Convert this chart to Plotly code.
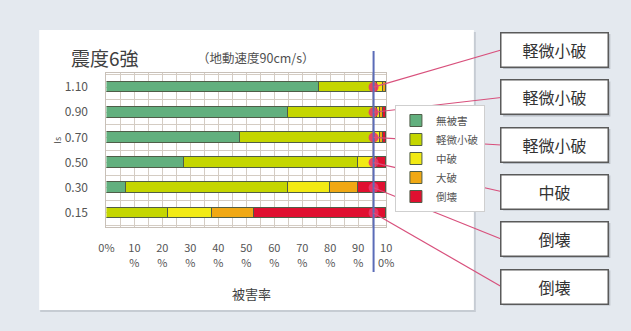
import plotly.graph_objects as go

# ---- data -------------------------------------------------------------
is_values = ["0.15", "0.30", "0.50", "0.70", "0.90", "1.10"]
damage_names = ["無被害", "軽微小破", "中破", "大破", "倒壊"]
no_damage = [0, 7, 28, 48, 65, 76]
slight = [22, 58, 62, 48, 32, 21]
moderate = [16, 15, 6, 2, 1, 2]
severe = [15, 10, 1, 1, 1, 1]
collapse = [47, 10, 3, 1, 1, 0]
threshold = 95.5
row_labels = ["倒壊", "倒壊", "中破", "軽微小破", "軽微小破", "軽微小破"]
x_ticks = [0, 10, 20, 30, 40, 50, 60, 70, 80, 90, 100]
x_ticktext = ["0%", "10<br>%", "20<br>%", "30<br>%", "40<br>%", "50<br>%",
              "60<br>%", "70<br>%", "80<br>%", "90<br>%", "10<br>0%"]

colors = ["#62b07e", "#c4d600", "#f2ea14", "#f0a814", "#e01030"]
series = [no_damage, slight, moderate, severe, collapse]

# ---- geometry ---------------------------------------------------------
W, H = 631, 331
FONT = "Noto Sans CJK JP"
X_DOM = [101 / W, 388 / W]
Y_DOM = [1 - 227 / H, 1 - 73 / H]
X_RANGE = [0, 100]
Y_RANGE = [-0.56, 5.56]


def px(x):
    return x / W


def py(y):
    return 1 - y / H


def data_to_paper(xv, yv):
    fx = (xv - X_RANGE[0]) / (X_RANGE[1] - X_RANGE[0])
    fy = (yv - Y_RANGE[0]) / (Y_RANGE[1] - Y_RANGE[0])
    return (X_DOM[0] + fx * (X_DOM[1] - X_DOM[0]),
            Y_DOM[0] + fy * (Y_DOM[1] - Y_DOM[0]))


def paper_to_ydata(p):
    f = (p - Y_DOM[0]) / (Y_DOM[1] - Y_DOM[0])
    return Y_RANGE[0] + f * (Y_RANGE[1] - Y_RANGE[0])


def note(x, y, text, size, color="#404040", xanchor="center", **kw):
    fig.add_annotation(x=px(x), y=py(y), xref="paper", yref="paper",
                       text=text, showarrow=False, xanchor=xanchor,
                       yanchor="middle",
                       font=dict(family=FONT, size=size, color=color), **kw)


rows = list(range(len(is_values)))

fig = go.Figure()

for name, vals, col in zip(damage_names, series, colors):
    fig.add_trace(go.Bar(
        y=rows, x=vals, name=name, orientation="h",
        marker=dict(color=col, line=dict(color="#4f5d48", width=1)),
        width=0.42, hoverinfo="x+name",
    ))

# threshold line with diamond ends
top_y = paper_to_ydata(py(51))
bot_y = paper_to_ydata(py(272))
fig.add_shape(type="line", xref="x", yref="paper",
              x0=threshold, x1=threshold, y0=py(51), y1=py(272),
              line=dict(color="#5b6cb8", width=2), layer="above")
fig.add_trace(go.Scatter(
    x=[threshold, threshold], y=[top_y, bot_y], mode="markers",
    marker=dict(symbol="diamond", size=10, color="#2c4a9c"),
    cliponaxis=False, showlegend=False, hoverinfo="skip"))

# intersection dots
fig.add_trace(go.Scatter(
    x=[threshold] * len(rows), y=rows, mode="markers",
    marker=dict(size=10, color="#e8386a", opacity=0.9),
    cliponaxis=False, showlegend=False, hoverinfo="skip"))

# label boxes and leader lines
box_left, box_right = 506, 616
box_centres = [286.5, 239, 191.5, 145, 97.5, 50]
for r, lab, cy in zip(rows, row_labels, box_centres):
    x0, y0 = data_to_paper(threshold, r)
    fig.add_shape(type="line", xref="paper", yref="paper",
                  x0=x0, y0=y0, x1=px(box_left), y1=py(cy),
                  line=dict(color="#d8507c", width=1.2))
    fig.add_shape(type="rect", xref="paper", yref="paper",
                  x0=px(box_left + 2), x1=px(box_right + 2),
                  y0=py(cy - 16), y1=py(cy + 19),
                  fillcolor="#b8bec6", line=dict(width=0), layer="below")
    note((box_left + box_right) / 2, cy, lab, 16, color="#333333",
         bgcolor="#ffffff", bordercolor="#5a5a5a", borderwidth=1.5,
         borderpad=0, width=106, height=33)

# white card behind the chart
fig.add_shape(type="rect", xref="paper", yref="paper",
              x0=px(33), x1=px(480), y0=py(32), y1=py(312),
              fillcolor="#c6ccd3", line=dict(width=0), layer="below")
fig.add_shape(type="rect", xref="paper", yref="paper",
              x0=px(32), x1=px(478), y0=py(30), y1=py(310),
              fillcolor="#ffffff", line=dict(width=0), layer="below")

# titles
note(63, 58, "震度6強", 19, xanchor="left")
note(192, 58, "（地動速度90cm/s）", 12.5, color="#505050", xanchor="left")
note(250, 293, "被害率", 13)
note(50, 140, "Is", 9, color="#505050", textangle=-90)

fig.update_layout(
    width=W, height=H,
    margin=dict(l=0, r=0, t=0, b=0),
    paper_bgcolor="#e4e9ef",
    plot_bgcolor="#f6f0e9",
    barmode="stack",
    bargap=0,
    font=dict(family=FONT, size=11, color="#555555"),
    showlegend=True,
    legend=dict(x=px(397), y=py(105), xanchor="left", yanchor="top",
                traceorder="normal", bgcolor="#ffffff",
                bordercolor="#cfcfcf", borderwidth=1,
                font=dict(family=FONT, size=10.5, color="#555555"),
                itemwidth=30, tracegroupgap=0),
    xaxis=dict(domain=X_DOM, range=X_RANGE, tickvals=x_ticks,
               ticktext=x_ticktext, showgrid=True, gridcolor="#d4ccc3",
               gridwidth=1, zeroline=False, ticks="outside", ticklen=11,
               tickcolor="rgba(0,0,0,0)", showline=True, linecolor="#c8c0b8",
               mirror=True,
               minor=dict(dtick=5, showgrid=True, gridcolor="#d4ccc3"),
               tickfont=dict(family=FONT, size=11, color="#555555"),
               fixedrange=True),
    yaxis=dict(domain=Y_DOM, range=Y_RANGE, tickvals=rows,
               ticktext=is_values, showgrid=True, gridcolor="#d4ccc3",
               zeroline=False, ticks="outside", ticklen=15,
               tickcolor="rgba(0,0,0,0)", showline=True, linecolor="#c8c0b8",
               mirror=True,
               minor=dict(tickvals=[r + 0.5 for r in rows[:-1]] + [-0.5, 5.5],
                          showgrid=True, gridcolor="#d4ccc3"),
               tickfont=dict(family=FONT, size=12, color="#555555"),
               fixedrange=True),
)

fig.write_html("out.html")
